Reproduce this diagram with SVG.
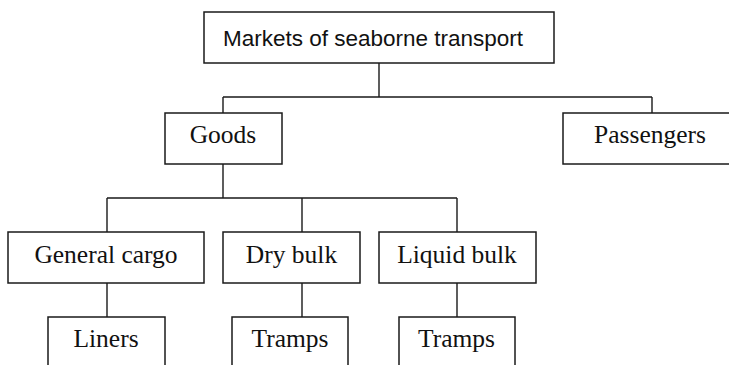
<svg xmlns="http://www.w3.org/2000/svg" width="729" height="365" viewBox="0 0 729 365">
  <style>
    .box { fill: #ffffff; stroke: #1a1a1a; stroke-width: 1.5; }
    .link { fill: none; stroke: #1a1a1a; stroke-width: 1.4; }
    .serif { font-family: "Liberation Serif", "Times New Roman", serif; font-size: 25.5px; fill: #111; text-anchor: middle; }
    .sans { font-family: "Liberation Sans", Arial, sans-serif; font-size: 22.5px; fill: #111; text-anchor: middle; }
  </style>
  <rect width="729" height="365" fill="#ffffff"/>

  <!-- connectors -->
  <g id="connectors" class="link">
    <path d="M379,63 V97 M223,97 H652 M223,97 V113 M652,97 V113"/>
    <path d="M223,164 V198 M107,198 H457 M107,198 V232 M302,198 V232 M457,198 V232"/>
    <path d="M107,283 V317 M302,283 V317 M457,283 V317"/>
  </g>

  <!-- nodes -->
  <g id="markets">
    <rect class="box" x="204" y="12" width="350" height="51"/>
    <text class="sans" x="373" y="46">Markets of seaborne transport</text>
  </g>
  <g id="goods">
    <rect class="box" x="165" y="113" width="117" height="51"/>
    <text class="serif" x="223" y="143">Goods</text>
  </g>
  <g id="passengers">
    <rect class="box" x="563" y="113" width="180" height="51"/>
    <text class="serif" x="650" y="143">Passengers</text>
  </g>
  <g id="general-cargo">
    <rect class="box" x="8" y="232" width="196" height="51"/>
    <text class="serif" x="106" y="263">General cargo</text>
  </g>
  <g id="dry-bulk">
    <rect class="box" x="223" y="232" width="137" height="51"/>
    <text class="serif" x="291.5" y="263">Dry bulk</text>
  </g>
  <g id="liquid-bulk">
    <rect class="box" x="379" y="232" width="157" height="51"/>
    <text class="serif" x="457" y="263">Liquid bulk</text>
  </g>
  <g id="liners">
    <rect class="box" x="48" y="317" width="117" height="60"/>
    <text class="serif" x="106" y="347">Liners</text>
  </g>
  <g id="tramps-dry">
    <rect class="box" x="232" y="317" width="116" height="60"/>
    <text class="serif" x="290" y="347">Tramps</text>
  </g>
  <g id="tramps-liquid">
    <rect class="box" x="399" y="317" width="116" height="60"/>
    <text class="serif" x="456.5" y="347">Tramps</text>
  </g>
</svg>
